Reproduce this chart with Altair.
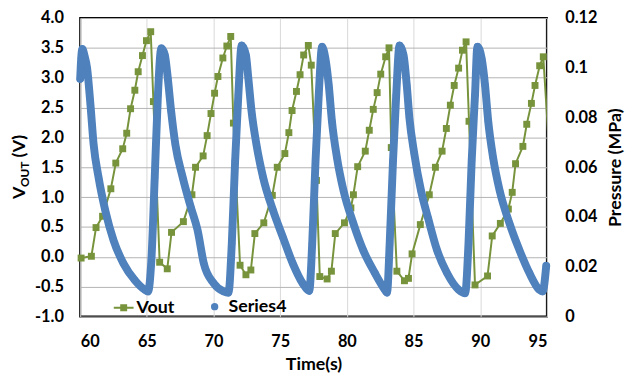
import altair as alt
import pandas as pd

# ---- data ----
vout_t = [60.07, 60.84, 61.19, 61.68, 62.30, 62.67, 63.19, 63.49, 63.78, 64.10, 64.35, 64.67, 64.97, 65.29,
          65.49, 65.96, 66.53, 66.85, 67.74, 68.38, 68.65, 69.22, 69.52, 69.81, 70.08, 70.33, 70.70, 71.00,
          71.29, 71.49, 71.99, 72.43, 72.80, 73.10, 73.77, 74.41, 74.78, 75.35, 75.65, 75.89, 76.22, 76.49,
          76.76, 77.11, 77.33, 77.72, 77.97, 78.52, 78.84, 79.13, 79.82, 80.30, 80.49, 80.81, 81.38, 81.68,
          81.98, 82.27, 82.54, 82.91, 83.16, 83.33, 83.75, 84.32, 84.62, 84.89, 85.51, 86.18, 86.64, 87.14,
          87.46, 87.76, 88.05, 88.38, 88.67, 88.94, 89.16, 89.61, 90.55, 90.90, 91.51, 92.11, 92.40, 92.65,
          93.20, 93.49, 93.84, 94.11, 94.46, 94.73, 95.15]
vout_v = [-0.02, 0.01, 0.49, 0.68, 1.14, 1.57, 1.81, 2.07, 2.48, 2.79, 3.10, 3.37, 3.62, 3.77,
          2.60, -0.09, -0.20, 0.41, 0.59, 1.04, 1.50, 1.69, 2.03, 2.40, 2.74, 3.02, 3.33, 3.53,
          3.69, 2.24, -0.14, -0.30, -0.22, 0.39, 0.57, 1.03, 1.50, 1.73, 2.08, 2.45, 2.77, 3.05,
          3.38, 3.54, 3.21, 1.28, -0.33, -0.37, -0.24, 0.39, 0.57, 0.82, 1.04, 1.51, 1.77, 2.12,
          2.47, 2.75, 3.06, 3.35, 3.50, 1.83, -0.24, -0.40, -0.36, 0.05, 0.54, 1.04, 1.50, 1.77,
          2.15, 2.54, 2.87, 3.16, 3.46, 3.60, 2.27, -0.47, -0.32, 0.35, 0.56, 0.80, 1.08, 1.56,
          1.85, 2.22, 2.57, 2.87, 3.20, 3.35, 1.85]

press_t = [60.00, 60.08, 60.16, 60.32, 60.52, 60.77, 61.01, 61.38, 61.88, 62.50, 63.24, 64.10, 64.84, 65.09,
           65.34, 65.59, 65.83, 66.08, 66.35, 66.57, 66.82, 67.14, 67.69, 68.30, 68.80, 69.27, 70.01, 70.75,
           71.12, 71.37, 71.62, 71.86, 72.11, 72.43, 72.61, 72.85, 73.22, 73.72, 74.46, 75.20, 75.94, 76.68,
           77.18, 77.40, 77.65, 77.89, 78.14, 78.39, 78.64, 78.88, 79.26, 79.75, 80.49, 81.23, 82.10, 82.84,
           83.01, 83.21, 83.46, 83.70, 83.95, 84.25, 84.49, 84.69, 85.06, 85.56, 86.10, 86.77, 87.51, 88.38,
           88.87, 89.12, 89.36, 89.61, 89.79, 90.11, 90.36, 90.60, 90.97, 91.46, 92.20, 92.95, 93.69, 94.43,
           94.68, 94.95]
press_p = [0.0955, 0.1040, 0.1075, 0.1050, 0.0998, 0.0852, 0.0691, 0.0559, 0.0427, 0.0307, 0.0214, 0.0146, 0.0108, 0.0101,
           0.0228, 0.0559, 0.0890, 0.1078, 0.1051, 0.0958, 0.0826, 0.0691, 0.0559, 0.0439, 0.0348, 0.0214, 0.0134, 0.0101,
           0.0096, 0.0293, 0.0626, 0.0890, 0.1090, 0.1051, 0.0958, 0.0826, 0.0691, 0.0559, 0.0427, 0.0319, 0.0214, 0.0134,
           0.0103, 0.0293, 0.0626, 0.0890, 0.1085, 0.1037, 0.0931, 0.0785, 0.0638, 0.0506, 0.0374, 0.0266, 0.0175, 0.0108,
           0.0096, 0.0293, 0.0626, 0.0890, 0.1090, 0.1051, 0.0931, 0.0799, 0.0653, 0.0506, 0.0394, 0.0266, 0.0175, 0.0108,
           0.0094, 0.0293, 0.0626, 0.0890, 0.1085, 0.1037, 0.0931, 0.0785, 0.0638, 0.0506, 0.0374, 0.0266, 0.0175, 0.0108,
           0.0101, 0.0204]

x_ticks = [60, 65, 70, 75, 80, 85, 90, 95]
left_ticks = [-1.0, -0.5, 0.0, 0.5, 1.0, 1.5, 2.0, 2.5, 3.0, 3.5, 4.0]
right_ticks = [0, 0.02, 0.04, 0.06, 0.08, 0.1, 0.12]

GREEN = "#77933C"
BLUE = "#4F81BD"
FONT = "Lato"
LBL = 16.5
TTL = 18

df_v = pd.DataFrame({"t": vout_t, "v": vout_v, "series": "Vout"})
df_p = pd.DataFrame({"t": press_t, "p": press_p, "series": "Series4"})

x_enc = alt.X("t:Q", scale=alt.Scale(domain=[60, 95], nice=False, zero=False),
              axis=alt.Axis(values=x_ticks, format="d", title="Time(s)", grid=True,
                            gridColor="#D9D9D9", gridWidth=1, ticks=False, tickSize=0,
                            domain=False, labelPadding=17, titlePadding=6))

y_left = alt.Y("v:Q", scale=alt.Scale(domain=[-1, 4], nice=False, zero=False),
               axis=alt.Axis(orient="left", values=left_ticks, title="",
                             labelExpr="replace(format(datum.value, '.1f'), '\u2212', '-')",
                             grid=True, gridColor="#B3B3B3", gridWidth=1, ticks=False, tickSize=0,
                             domain=False, labelPadding=17))

y_right = alt.Y("p:Q", scale=alt.Scale(domain=[0, 0.12], nice=False, zero=False),
                axis=alt.Axis(orient="right", values=right_ticks,
                              labelExpr="format(datum.value, '.2~f')",
                              title="Pressure (MPa)", titleAngle=270, titleX=69, titleY=151,
                              titleAlign="center", titleBaseline="middle", grid=False,
                              ticks=False, tickSize=0, domain=False, labelPadding=18))

green_line = alt.Chart(df_v).mark_line(color=GREEN, strokeWidth=2, clip=True).encode(
    x=x_enc, y=y_left, order="t:Q")
green_pts = alt.Chart(df_v).transform_filter("datum.t <= 95").mark_point(
    shape="square", filled=True, size=49, opacity=1).encode(
    x=x_enc, y=y_left,
    color=alt.Color("series:N", scale=alt.Scale(domain=["Vout"], range=[GREEN]),
                    legend=alt.Legend(orient="none", legendX=34, legendY=283, title=None,
                                      symbolType="M-1,-0.1H1V0.1H-1ZM-0.35,-0.35H0.35V0.35H-0.35Z",
                                      symbolSize=400, symbolStrokeWidth=0, symbolOpacity=1,
                                      labelFont=FONT, labelFontSize=TTL, labelFontWeight="bold",
                                      labelColor="black", labelOffset=3, padding=0)))
green = alt.layer(green_line, green_pts)

blue_line = alt.Chart(df_p).mark_line(color=BLUE, strokeWidth=8, interpolate="monotone",
                                      strokeCap="round", strokeJoin="round").encode(
    x=x_enc, y=y_right, order="t:Q")
blue_pts = alt.Chart(df_p).mark_circle(size=50, opacity=1).encode(
    x=x_enc, y=y_right,
    color=alt.Color("series:N", scale=alt.Scale(domain=["Series4"], range=[BLUE]),
                    legend=alt.Legend(orient="none", legendX=127, legendY=283, title=None,
                                      symbolType="circle", symbolSize=55, symbolStrokeWidth=0,
                                      symbolOpacity=1,
                                      labelFont=FONT, labelFontSize=TTL, labelFontWeight="bold",
                                      labelColor="black", labelOffset=5, padding=0)))
blue = alt.layer(blue_line, blue_pts)

# left axis title with subscript, as text
title_parts = ["V", "OUT", "(V)"]


def ttext(s, xpos, ypos, size):
    return alt.Chart(pd.DataFrame({"s": [s]})).mark_text(
        angle=270, align="left", baseline="alphabetic", font=FONT, fontSize=size,
        fontWeight="bold", color="black").encode(
        x=alt.value(xpos), y=alt.value(ypos), text="s:N")


t_v = ttext(title_parts[0], -56, 183, TTL)
t_out = ttext(title_parts[1], -52, 171, 12)
t_unit = ttext(title_parts[2], -56, 141, TTL)

chart = alt.layer(green, blue, t_v, t_out, t_unit).resolve_scale(
    y="independent", color="independent").properties(
    width=472, height=302,
    autosize=alt.AutoSizeParams(type="none"),
    padding={"left": 73, "top": 8, "right": 79, "bottom": 57},
).configure_view(stroke="black", strokeWidth=2).configure_axis(
    labelFont=FONT, labelFontSize=LBL, labelFontWeight="bold", labelColor="black",
    titleFont=FONT, titleFontSize=TTL, titleFontWeight="bold", titleColor="black")

chart.save("out.html", embed_options={"renderer": "svg", "actions": False})
